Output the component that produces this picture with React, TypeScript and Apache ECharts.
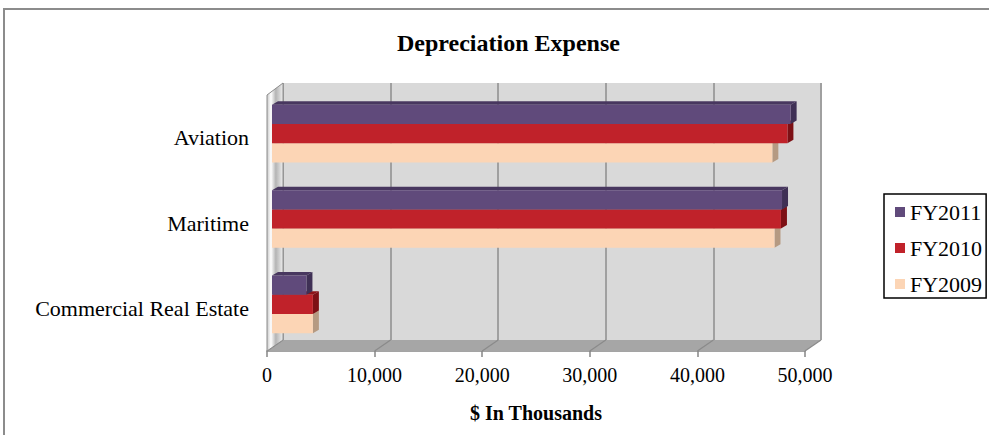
import React, { useEffect, useRef } from "react";
import * as echarts from "echarts";

const categories = ["Commercial Real Estate", "Maritime", "Aviation"];
const seriesNames = ["FY2011", "FY2010", "FY2009"];
const fy2011 = [3200, 47400, 48200];
const fy2010 = [3800, 47300, 47900];
const fy2009 = [3800, 46700, 46500];
const xTicks = [0, 10000, 20000, 30000, 40000, 50000];

const FONT = "'Liberation Serif', 'Times New Roman', serif";

const COLORS: Record<string, { front: string; top: string; side: string }> = {
  FY2011: { front: "#604a7b", top: "#48375f", side: "#3f3055" },
  FY2010: { front: "#c0222a", top: "#8e1419", side: "#7d1015" },
  FY2009: { front: "#fcd5b5", top: "#d9b79a", side: "#b59a82" },
};

// layout (pixels)
const FRONT = { left: 267, right: 805, top: 95, bottom: 351 };
const BACK = { left: 283, right: 821, top: 83, bottom: 340 };

function makeRender(slot: number, name: string) {
  const c = COLORS[name];
  return (_params: any, api: any) => {
    const v = api.value(0);
    const idx = api.value(1);
    const p0 = api.coord([0, idx]);
    const p1 = api.coord([v, idx]);
    const band = api.size([0, 1])[1];
    const bh = band * 0.225;
    const cy = p0[1] - 4;
    const y0 = cy + (slot - 1.5) * bh;
    const y1 = y0 + bh;
    const x0 = p0[0] + 5;
    const x1 = p1[0] + 5;
    const dx = 6;
    const dy = 3.5;
    return {
      type: "group",
      children: [
        {
          type: "polygon",
          shape: { points: [[x0, y0], [x0 + dx, y0 - dy], [x1 + dx, y0 - dy], [x1, y0]] },
          style: { fill: c.top },
        },
        {
          type: "polygon",
          shape: { points: [[x1, y0], [x1 + dx, y0 - dy], [x1 + dx, y1 - dy], [x1, y1]] },
          style: { fill: c.side },
        },
        {
          type: "rect",
          shape: { x: x0, y: y0, width: x1 - x0, height: bh },
          style: { fill: c.front },
        },
      ],
    };
  };
}

export default function App() {
  const ref = useRef<HTMLDivElement>(null);
  useEffect(() => {
    if (!ref.current) return;
    const chart = echarts.init(ref.current, undefined, { renderer: "svg" });
    const W = 989;
    const H = 435;
    const dataSets: Record<string, number[]> = { FY2011: fy2011, FY2010: fy2010, FY2009: fy2009 };
    const drawOrder = ["FY2009", "FY2010", "FY2011"];
    const slotOf: Record<string, number> = { FY2011: 0, FY2010: 1, FY2009: 2 };

    const frontStep = (FRONT.right - FRONT.left) / (xTicks.length - 1);
    const backStep = (BACK.right - BACK.left) / (xTicks.length - 1);
    const floorLines = xTicks.map((_, i) => ({
      type: "line",
      z: 1,
      shape: {
        x1: FRONT.left + i * frontStep,
        y1: FRONT.bottom,
        x2: BACK.left + i * backStep,
        y2: BACK.bottom,
      },
      style: { stroke: "#8a8a8a", lineWidth: 1.2 },
    }));

    const option: any = {
      animation: false,
      backgroundColor: "#ffffff",
      title: {
        text: "Depreciation Expense",
        left: 392,
        top: 26,
        textStyle: { fontFamily: FONT, fontSize: 24, fontWeight: "bold", color: "#000" },
      },
      legend: {
        orient: "vertical",
        left: 884,
        top: 194,
        data: seriesNames,
        icon: "rect",
        itemWidth: 10,
        itemHeight: 10,
        itemGap: 14,
        padding: [7, 4, 3, 11],
        borderColor: "#000",
        borderWidth: 1.5,
        textStyle: { fontFamily: FONT, fontSize: 22, color: "#000" },
      },
      grid: [
        {
          left: BACK.left,
          right: W - BACK.right,
          top: BACK.top,
          bottom: H - BACK.bottom,
          show: true,
          backgroundColor: "#d9d9d9",
          borderWidth: 0,
        },
        {
          left: FRONT.left,
          right: W - FRONT.right,
          top: FRONT.top,
          bottom: H - FRONT.bottom,
        },
      ],
      xAxis: [
        {
          gridIndex: 0,
          type: "value",
          min: 0,
          max: 50000,
          interval: 10000,
          axisLabel: { show: false },
          axisLine: { show: false },
          axisTick: { show: false },
          splitLine: { show: true, lineStyle: { color: "#8c8c8c", width: 1.5 } },
        },
        {
          gridIndex: 1,
          type: "value",
          min: 0,
          max: 50000,
          interval: 10000,
          splitLine: { show: false },
          axisLine: { show: true, lineStyle: { color: "#868686", width: 1.5 } },
          axisTick: { show: true, length: 6, lineStyle: { color: "#868686", width: 1.5 } },
          axisLabel: {
            margin: 14,
            fontFamily: FONT,
            fontSize: 20,
            color: "#000",
            formatter: (v: number) => v.toLocaleString("en-US"),
          },
          name: "$ In Thousands",
          nameLocation: "middle",
          nameGap: 52,
          nameTextStyle: { fontFamily: FONT, fontSize: 20, fontWeight: "bold", color: "#000" },
        },
      ],
      yAxis: [
        { gridIndex: 0, type: "category", data: categories, show: false },
        {
          gridIndex: 1,
          type: "category",
          data: categories,
          axisLine: { show: false },
          axisTick: { show: false },
          axisLabel: { margin: 18, fontFamily: FONT, fontSize: 22, color: "#000" },
        },
      ],
      graphic: [
        {
          type: "rect",
          z: 10,
          shape: { x: 4, y: 9, width: 995, height: 440 },
          style: { fill: "none", stroke: "#8c8c8c", lineWidth: 2 },
          silent: true,
        },
        {
          type: "polygon",
          z: 1,
          shape: {
            points: [
              [FRONT.left, FRONT.bottom],
              [BACK.left, BACK.bottom],
              [BACK.right, BACK.bottom],
              [FRONT.right, FRONT.bottom],
            ],
          },
          style: { fill: "#a6a6a6" },
        },
        ...floorLines,
        {
          type: "polygon",
          z: 1,
          shape: {
            points: [
              [FRONT.left, FRONT.top],
              [BACK.left, BACK.top],
              [BACK.left, BACK.bottom],
              [FRONT.left, FRONT.bottom],
            ],
          },
          style: {
            fill: new echarts.graphic.LinearGradient(0, 0, 1, 0, [
              { offset: 0, color: "#c8c8c8" },
              { offset: 0.25, color: "#ffffff" },
              { offset: 0.55, color: "#b4b4b4" },
              { offset: 1, color: "#eeeeee" },
            ]),
            stroke: "#8c8c8c",
            lineWidth: 1,
          },
        },
        {
          type: "line",
          z: 1,
          shape: { x1: BACK.right, y1: BACK.top, x2: BACK.right, y2: BACK.bottom },
          style: { stroke: "#a0a0a0", lineWidth: 2 },
        },
      ],
      series: drawOrder.map((name) => ({
        name,
        type: "custom",
        xAxisIndex: 1,
        yAxisIndex: 1,
        z: 3,
        itemStyle: { color: COLORS[name].front },
        renderItem: makeRender(slotOf[name], name),
        encode: { x: 0, y: 1 },
        data: dataSets[name].map((v, i) => [v, i]),
      })),
    };
    chart.setOption(option);
    return () => chart.dispose();
  }, []);
  return (
    <div
      ref={ref}
      style={{ position: "fixed", left: 0, top: 0, width: 989, height: 435 }}
    />
  );
}
